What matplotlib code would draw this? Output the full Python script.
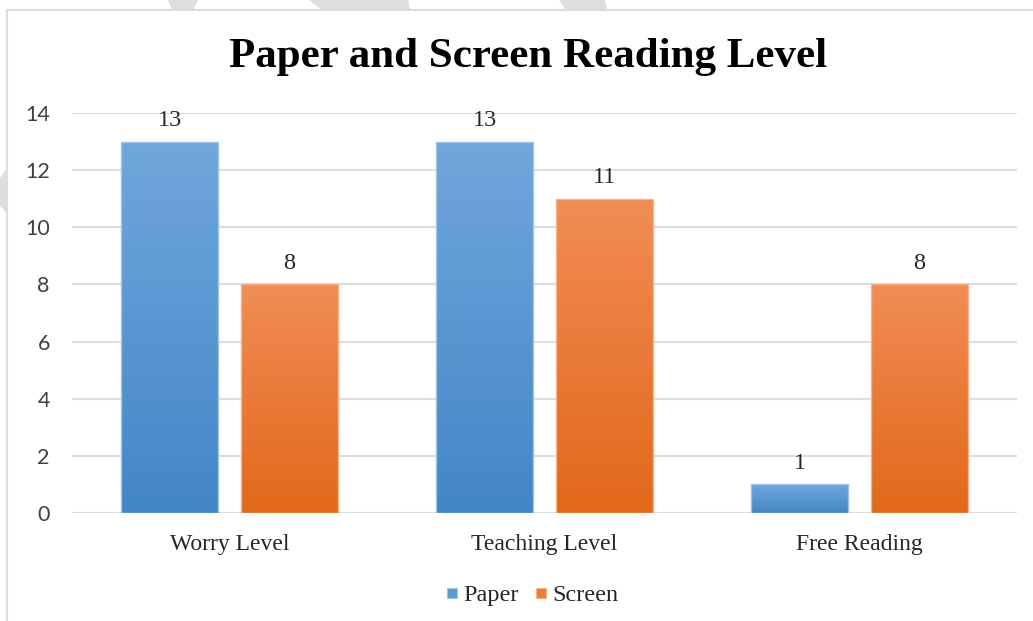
import matplotlib.pyplot as plt
import numpy as np
from matplotlib.colors import LinearSegmentedColormap
from matplotlib.patches import Polygon, Rectangle

categories = ['Worry Level', 'Teaching Level', 'Free Reading']
paper = [13, 13, 1]
screen = [8, 11, 8]
series_names = ['Paper', 'Screen']
title = 'Paper and Screen Reading Level'

W, H = 1033, 621
fig = plt.figure(figsize=(W / 100, H / 100), dpi=100)

# faint watermark bits outside the chart frame
for pts in [[(168, 0), (198, 0), (193, 10), (172, 10)],
            [(309, 0), (408, 0), (410, 10), (322, 10)],
            [(559, 0), (605, 0), (607, 10), (566, 10)],
            [(0, 178), (7, 168), (7, 213), (0, 206)]]:
    fig.add_artist(Polygon([(x / W, 1 - y / H) for x, y in pts], closed=True,
                           transform=fig.transFigure, facecolor='#dedede',
                           edgecolor='none', lw=0, zorder=0))

# chart frame (only top / left visible)
fig.add_artist(plt.Line2D([7 / W, 7 / W], [0, 1 - 10 / H], transform=fig.transFigure,
                          color='#d9dde4', lw=1.5))
fig.add_artist(plt.Line2D([7 / W, 1], [1 - 10 / H, 1 - 10 / H], transform=fig.transFigure,
                          color='#d9dde4', lw=1.5))

ax = fig.add_axes([72 / W, 1 - 513 / H, (1017 - 72) / W, 400 / H])
ax.set_zorder(2)
ax.patch.set_alpha(0)
x = np.arange(len(categories))
bw = 0.31
off = 0.19

grad_paper = LinearSegmentedColormap.from_list('p', ['#4386c6', '#70a7dc'])
grad_screen = LinearSegmentedColormap.from_list('s', ['#e2681a', '#f18d55'])

bars_p = ax.bar(x - off, paper, bw, facecolor='none', edgecolor='#9fc4e8', lw=1.0, zorder=3)
bars_s = ax.bar(x + off, screen, bw, facecolor='none', edgecolor='#f5b48a', lw=1.0, zorder=3)

grad = np.linspace(0, 1, 256).reshape(-1, 1)
for bars, cmap in [(bars_p, grad_paper), (bars_s, grad_screen)]:
    for b in bars:
        x0, y0 = b.get_x(), b.get_y()
        im = ax.imshow(grad, cmap=cmap, origin='lower', aspect='auto',
                       extent=[x0, x0 + b.get_width(), y0, y0 + b.get_height()], zorder=2)
        im.set_clip_path(b)

for bars in (bars_p, bars_s):
    for b in bars:
        ax.annotate(f'{int(b.get_height())}', (b.get_x() + b.get_width() / 2, b.get_height()),
                    xytext=(0, 15), textcoords='offset points', ha='center', va='center',
                    fontsize=17.5, family='Liberation Serif', color='#262626')

ax.set_xlim(-0.5, 2.5)
ax.set_ylim(0, 14)
ax.set_yticks(range(0, 15, 2))
ax.set_xticks(x)
ax.set_xticklabels(categories, family='Liberation Serif', fontsize=17, color='#262626')
for t in ax.get_yticklabels():
    t.set_family('Lato')
    t.set_fontsize(15.5)
    t.set_color('#404040')
ax.tick_params(axis='both', length=0)
ax.tick_params(axis='x', pad=15)
ax.tick_params(axis='y', pad=16)
ax.grid(axis='y', color='#d9dde4', lw=1.5)
ax.set_axisbelow(True)
for s in ax.spines.values():
    s.set_visible(False)

fig.text(528 / W, 1 - 57 / H, title, ha='center', va='center', fontsize=31,
         fontweight='bold', family='Liberation Serif', color='black')

# legend drawn by hand so both labels share one baseline
legend_items = [(series_names[0], '#5b9bd5', '#9fc4e8', 447),
                (series_names[1], '#ed7d31', '#f5b48a', 536)]
for name, fc, ec, lx in legend_items:
    fig.add_artist(Rectangle((lx / W, 1 - 598 / H), 10 / W, 10 / H, transform=fig.transFigure,
                             facecolor=fc, edgecolor=ec, lw=0.8))
    fig.text((lx + 16) / W, 1 - 601 / H, name, ha='left', va='baseline', fontsize=17.5,
             family='Liberation Serif', color='#262626')

fig.savefig('out.png', dpi=100, facecolor='white')
